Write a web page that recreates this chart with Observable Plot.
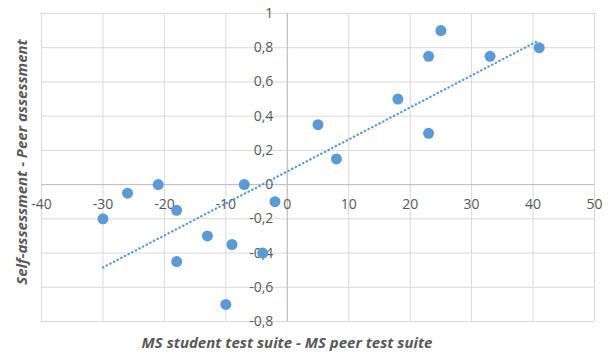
<!DOCTYPE html>
<html>
<head>
<meta charset="utf-8">
<script src="https://cdn.jsdelivr.net/npm/d3@7"></script>
<script src="https://cdn.jsdelivr.net/npm/@observablehq/plot@0.6"></script>
<style>
  html, body { margin: 0; padding: 0; background: #fff; }
  #chart { width: 608px; height: 354px; }
</style>
</head>
<body>
<div id="chart"></div>
<script>
const xValues = [-30, -26, -21, -18, -18, -13, -10, -9, -7, -4, -2, 5, 8, 18, 23, 23, 25, 33, 41];
const yValues = [-0.2, -0.05, 0, -0.15, -0.45, -0.3, -0.7, -0.35, 0, -0.4, -0.1, 0.35, 0.15, 0.5, 0.3, 0.75, 0.9, 0.75, 0.8];
const xTicks = [-40, -30, -20, -10, 0, 10, 20, 30, 40, 50];
const yTicks = [-0.8, -0.6, -0.4, -0.2, 0, 0.2, 0.4, 0.6, 0.8, 1];
const yTickLabels = ["-0,8", "-0,6", "-0,4", "-0,2", "0", "0,2", "0,4", "0,6", "0,8", "1"];
const xTitle = "MS student test suite - MS peer test suite";
const yTitle = "Self-assessment - Peer assessment";

const data = xValues.map((x, i) => ({x, y: yValues[i]}));
const yLabelData = yTicks.map((v, i) => ({v, label: yTickLabels[i]}));

const blue = "#5b9bd5";
const textGray = "#595959";
const font = "'Open Sans', sans-serif";

const chart = Plot.plot({
  width: 608,
  height: 354,
  marginLeft: 41,
  marginRight: 14,
  marginTop: 13,
  marginBottom: 33,
  style: {fontFamily: font, background: "#fff", overflow: "visible"},
  x: {domain: [-40, 50], axis: null},
  y: {domain: [-0.8, 1], axis: null},
  marks: [
    Plot.ruleX(xTicks, {stroke: "#d9d9d9", strokeWidth: 1}),
    Plot.ruleY(yTicks, {stroke: "#d9d9d9", strokeWidth: 1}),
    Plot.ruleX([0], {stroke: "#bfbfbf", strokeWidth: 1}),
    Plot.ruleY([0], {stroke: "#bfbfbf", strokeWidth: 1}),
    Plot.text(xTicks, {x: d => d, y: 0, dy: 20, text: d => String(d), fill: textGray, fontSize: 14}),
    Plot.text(yLabelData, {x: 0, y: "v", dx: -14, text: "label", textAnchor: "end", fill: textGray, fontSize: 14}),
    Plot.linearRegressionY(data, {x: "x", y: "y", ci: 0, stroke: blue, strokeWidth: 2.2, strokeDasharray: "0.5 3.6", strokeLinecap: "round"}),
    Plot.dot(data, {x: "x", y: "y", r: 5.5, fill: blue}),
    Plot.text([xTitle], {frameAnchor: "bottom", lineAnchor: "middle", textAnchor: "middle", dx: -31, dy: 22, text: d => d, fill: textGray, fontSize: 15, fontWeight: "bold", fontStyle: "italic"}),
    Plot.text([yTitle], {frameAnchor: "left", lineAnchor: "middle", textAnchor: "middle", dx: -19, dy: -5.5, rotate: -90, text: d => d, fill: textGray, fontSize: 15, fontWeight: "bold", fontStyle: "italic"})
  ]
});
document.getElementById("chart").appendChild(chart);
</script>
</body>
</html>
